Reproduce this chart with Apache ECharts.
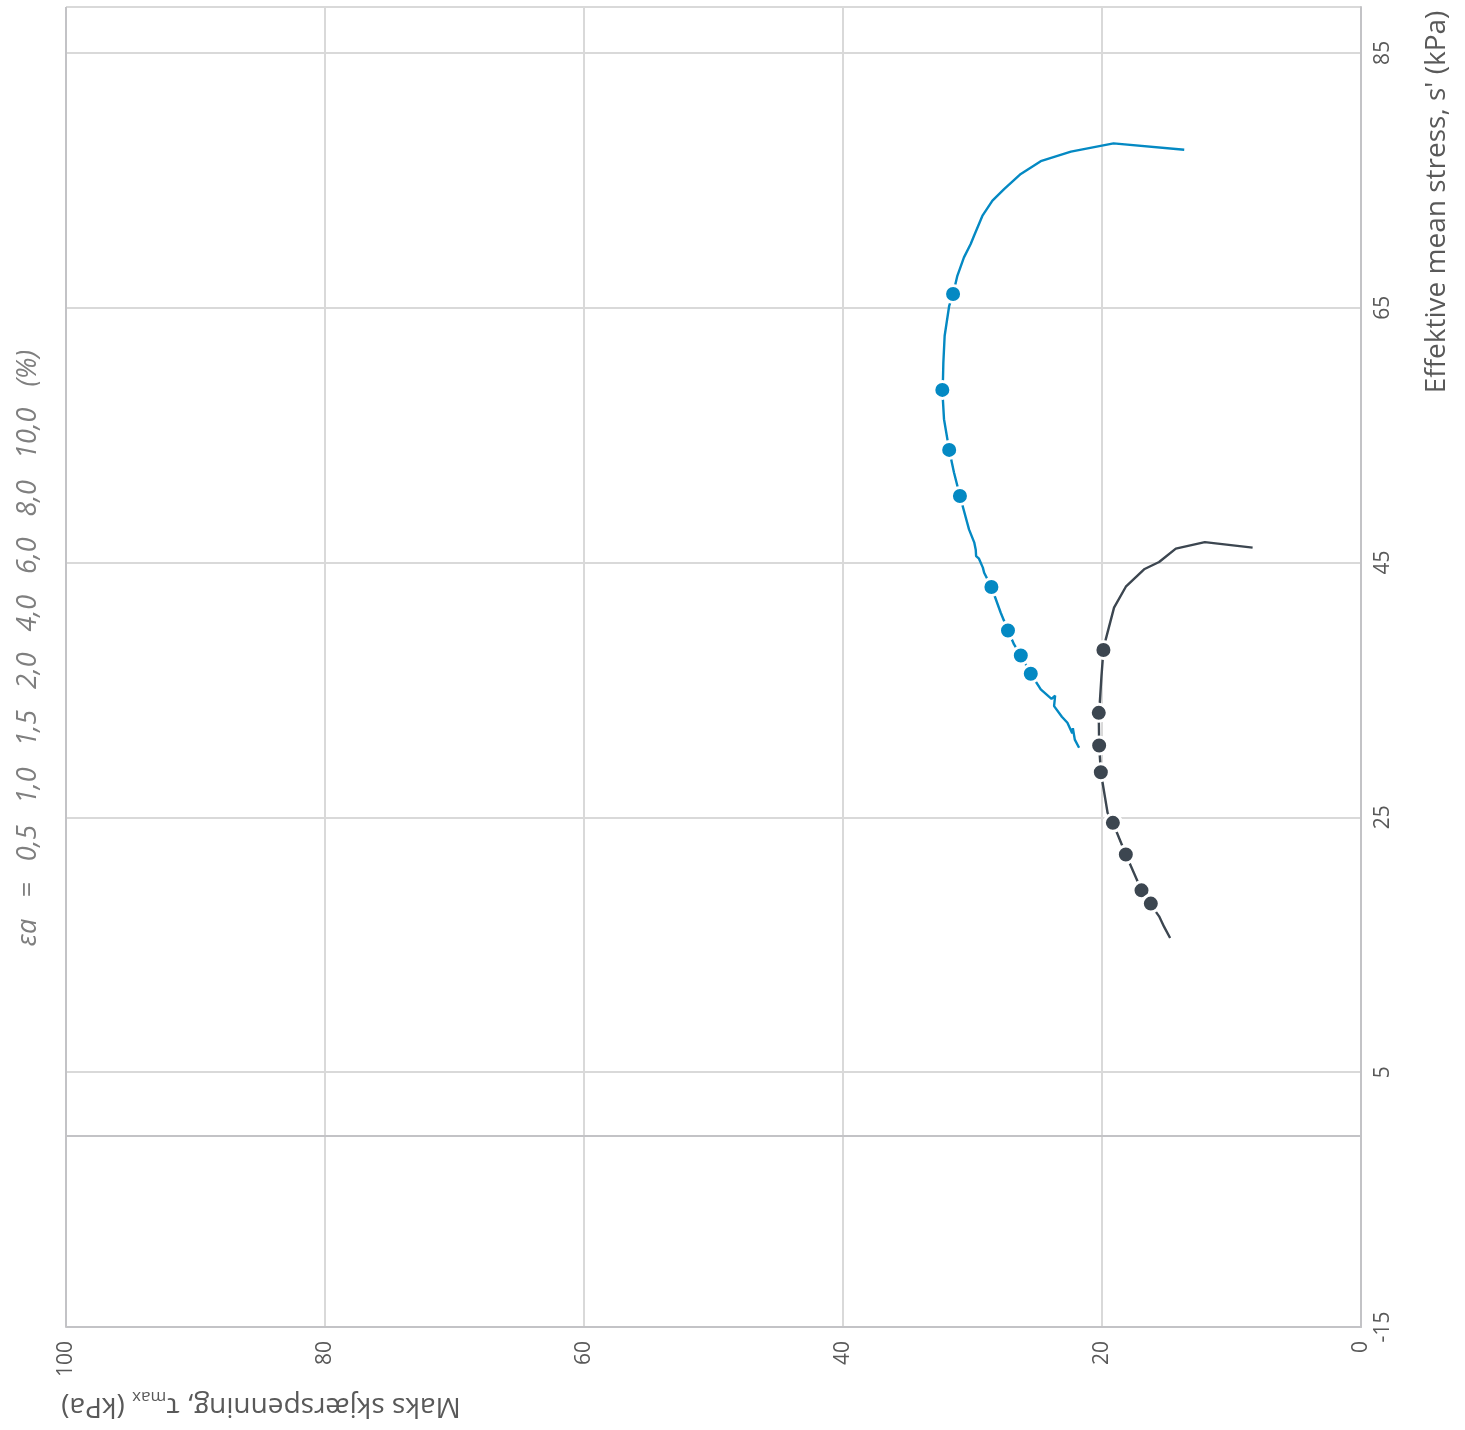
<!DOCTYPE html>
<html>
<head>
<meta charset="utf-8">
<script src="https://cdn.jsdelivr.net/npm/echarts@6/dist/echarts.min.js"></script>
<style>
html,body{margin:0;padding:0;background:#fff;}
#c{width:1465px;height:1430px;}
</style>
</head>
<body>
<div id="c"></div>
<script>
// Effective mean stress s' (kPa) and max shear stress tau (kPa), blue specimen
const blueS = [77.4, 77.9, 77.25, 76.5, 75.5, 74.3, 73.4, 72.2, 70.65, 70.0, 68.95, 67.5, 66.07, 65.15, 62.8, 60.7, 59.4, 58.55, 56.25, 53.84, 52.06, 50.22, 47.6, 46.56, 46.0, 45.5, 45.3, 44.6, 44.2, 43.08, 41.06, 39.67, 38.57, 37.7, 36.27, 35.04, 34.3, 34.55, 33.73, 32.9, 32.42, 31.6, 32.0, 31.1, 30.46];
const blueT = [13.65, 19.11, 22.4, 24.73, 26.27, 27.56, 28.46, 29.24, 29.88, 30.14, 30.66, 31.17, 31.5, 31.8, 32.15, 32.25, 32.28, 32.33, 32.2, 31.8, 31.43, 30.97, 30.27, 29.86, 29.75, 29.72, 29.5, 29.2, 29.1, 28.54, 27.82, 27.26, 26.79, 26.27, 25.5, 24.73, 23.9, 23.62, 23.7, 23.1, 22.67, 22.3, 22.25, 22.1, 21.77];
// dark specimen
const darkS = [46.17, 46.6, 46.09, 45.04, 44.47, 43.1, 41.46, 38.97, 38.13, 36.09, 34.0, 33.2, 30.64, 28.54, 25.36, 24.57, 22.08, 19.27, 18.23, 17.6, 17.23, 16.4, 15.53];
const darkT = [8.37, 12.06, 14.3, 15.59, 16.75, 18.16, 19.07, 19.71, 19.89, 20.04, 20.17, 20.25, 20.22, 20.09, 19.57, 19.16, 18.16, 16.95, 16.23, 15.85, 15.59, 15.2, 14.74];
// strain markers: ea = 0.5, 1.0, 1.5, 2.0, 4.0, 6.0, 8.0, 10.0 %
const strainLevels = [0.5, 1.0, 1.5, 2.0, 4.0, 6.0, 8.0, 10.0];
const blueMarkS = [66.07, 58.55, 53.84, 50.22, 43.08, 39.67, 37.7, 36.27];
const blueMarkT = [31.5, 32.33, 31.8, 30.97, 28.54, 27.26, 26.27, 25.5];
const darkMarkS = [38.13, 33.2, 30.64, 28.54, 24.57, 22.08, 19.27, 18.23];
const darkMarkT = [19.89, 20.25, 20.22, 20.09, 19.16, 18.16, 16.95, 16.23];
// axis ticks
const sTicks = [-15, 5, 25, 45, 65, 85];
const tauTicks = [0, 20, 40, 60, 80, 100];

const BLUE = '#0489c3';
const DARK = '#3c4650';
const TXT = '#595959';
const FONT = '"Open Sans", "Noto Sans", sans-serif';
const GRID = '#d9d9d9';
const AXIS = '#c3c3c6';

const zip = (t, s) => t.map((v, i) => [v, s[i]]);

const chart = echarts.init(document.getElementById('c'));
chart.setOption({
  animation: false,
  backgroundColor: '#fff',
  grid: {left: 66, right: 104, top: 7, bottom: 103, containLabel: false, outerBoundsMode: 'none'},
  xAxis: {
    type: 'value', min: 0, max: 100, interval: 20, inverse: true, position: 'bottom',
    axisLine: {show: true, onZero: false, lineStyle: {color: AXIS, width: 2}},
    axisTick: {show: false},
    axisLabel: {rotate: 90, margin: 14, color: TXT, fontSize: 21, fontFamily: FONT},
    splitLine: {show: true, lineStyle: {color: GRID, width: 2}}
  },
  yAxis: {
    type: 'value', min: -15, max: 88.6, position: 'right',
    axisLine: {show: true, onZero: false, lineStyle: {color: AXIS, width: 2}},
    axisTick: {show: false, customValues: sTicks.concat([88.6])},
    axisLabel: {customValues: sTicks, rotate: 90, margin: 12, color: TXT, fontSize: 21, fontFamily: FONT},
    splitLine: {show: true, lineStyle: {color: GRID, width: 2}}
  },
  graphic: [
    {type: 'text', x: 261, y: 1410, rotation: Math.PI, silent: true,
     style: {text: '{a|Maks skjærspenning, τ}{b|max}{a| (kPa)}', align: 'center', verticalAlign: 'middle',
       rich: {a: {fontSize: 28, fontFamily: FONT, fill: TXT, lineHeight: 36, verticalAlign: 'bottom'},
              b: {fontSize: 17, fontFamily: FONT, fill: TXT, lineHeight: 36, verticalAlign: 'bottom', padding: [0, 0, -4, 0]}}}},
    {type: 'text', x: 1437, y: 202, rotation: Math.PI / 2, silent: true,
     style: {text: "Effektive mean stress, s' (kPa)", align: 'center', verticalAlign: 'middle', fontSize: 28, fontFamily: FONT, fill: TXT}},
    {type: 'text', x: 28, y: 648, rotation: Math.PI / 2, silent: true,
     style: {text: 'εa   =   ' + strainLevels.map(v => v.toFixed(1).replace('.', ',')).join('   ') + '   (%)',
       align: 'center', verticalAlign: 'middle', fontSize: 27, fontStyle: 'italic', fontFamily: FONT, fill: '#7f7f7f'}}
  ],
  series: [
    {type: 'line', data: zip(blueT, blueS), showSymbol: false, symbol: 'none',
     lineStyle: {color: BLUE, width: 2.4}, z: 3,
     markLine: {silent: true, symbol: 'none', label: {show: false},
       lineStyle: {color: AXIS, width: 2, type: 'solid'},
       data: [{yAxis: 0}, {xAxis: 100}]}},
    {type: 'line', data: zip(darkT, darkS), showSymbol: false, symbol: 'none',
     lineStyle: {color: DARK, width: 2.4}, z: 3},
    {type: 'scatter', data: zip(blueMarkT, blueMarkS), symbol: 'circle', symbolSize: 17,
     itemStyle: {color: BLUE, borderColor: '#fff', borderWidth: 3, opacity: 1}, z: 5},
    {type: 'scatter', data: zip(darkMarkT, darkMarkS), symbol: 'circle', symbolSize: 17,
     itemStyle: {color: DARK, borderColor: '#fff', borderWidth: 3, opacity: 1}, z: 5}
  ]
});
</script>
</body>
</html>
